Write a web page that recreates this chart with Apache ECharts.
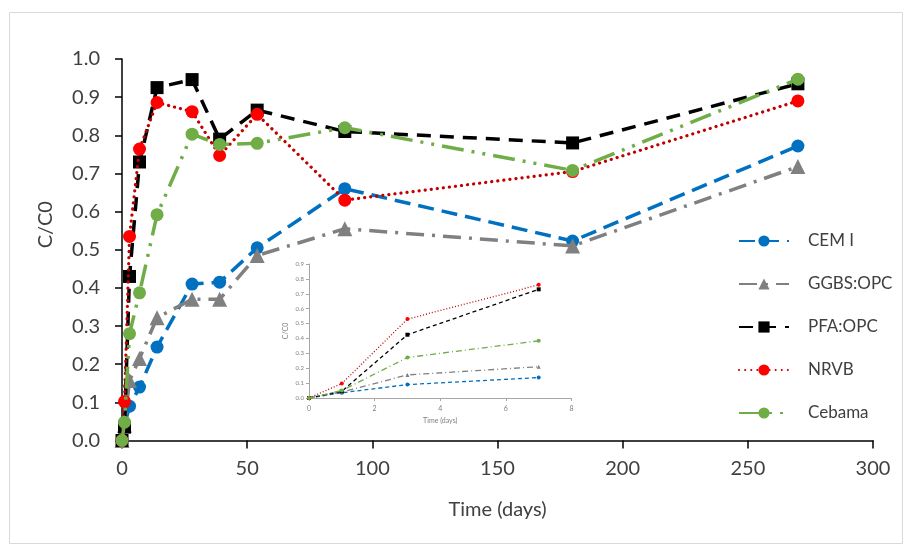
<!DOCTYPE html>
<html><head><meta charset="utf-8">
<script src="https://cdn.jsdelivr.net/npm/echarts@6/dist/echarts.min.js"></script>
<style>html,body{margin:0;padding:0;background:#fff}#c{width:906px;height:549px}</style>
</head><body><div id="c"></div>
<script>
// ---- main chart data ----
const days   = [0, 1, 3, 7, 14, 28, 39, 54, 89, 180, 270];
const cemI   = [0, 0.04, 0.09, 0.14, 0.245, 0.41, 0.415, 0.505, 0.66, 0.523, 0.772];
const ggbs   = [0, 0.04, 0.157, 0.215, 0.322, 0.37, 0.37, 0.485, 0.555, 0.51, 0.718];
const pfa    = [0, 0.035, 0.43, 0.73, 0.925, 0.946, 0.79, 0.866, 0.81, 0.78, 0.935];
const nrvb   = [0, 0.102, 0.535, 0.764, 0.886, 0.862, 0.747, 0.855, 0.63, 0.705, 0.89];
const cebama = [0, 0.048, 0.28, 0.387, 0.592, 0.803, 0.776, 0.779, 0.82, 0.708, 0.947];
// ---- inset data ----
const insetDays   = [0, 1, 3, 7];
const insetCemI   = [0, 0.035, 0.09, 0.137];
const insetGgbs   = [0, 0.04, 0.155, 0.21];
const insetPfa    = [0, 0.045, 0.425, 0.73];
const insetNrvb   = [0, 0.097, 0.53, 0.76];
const insetCebama = [0, 0.05, 0.272, 0.384];
const seriesNames = ['CEM I', 'GGBS:OPC', 'PFA:OPC', 'NRVB', 'Cebama'];

const zip = (xs, ys) => xs.map((x, i) => [x, ys[i]]);
const mainVals = [cemI, ggbs, pfa, nrvb, cebama];
const insetVals = [insetCemI, insetGgbs, insetPfa, insetNrvb, insetCebama];

const st = [
  {color: '#0070C0', symbol: 'circle',   size: 13, dash: [16, 8],                cap: 'butt',  w: 3.5, idash: [4, 3]},
  {color: '#808080', symbol: 'triangle', size: 15, dash: [18, 8, 3, 8],          cap: 'butt',  w: 3.5, idash: [6, 3, 1, 3]},
  {color: '#000000', symbol: 'rect',     size: 13, dash: [14, 9],                cap: 'butt',  w: 3.5, idash: [4, 3]},
  {color: '#FF0000', symbol: 'circle',   size: 13, dash: [0.1, 6],               cap: 'round', w: 3.2, idash: [1, 2]},
  {color: '#70AD47', symbol: 'circle',   size: 13, dash: [22, 8, 3, 8, 3, 8],    cap: 'butt',  w: 3.5, idash: [6, 3, 1, 3]}
];
const lineColors = ['#0070C0', '#808080', '#000000', '#C00000', '#70AD47'];

const FONT = 'Lato';
const series = [];
seriesNames.forEach((n, i) => {
  series.push({
    name: n, type: 'line', xAxisIndex: 0, yAxisIndex: 0,
    data: zip(days, mainVals[i]),
    symbol: st[i].symbol, symbolSize: st[i].size,
    itemStyle: {color: st[i].color},
    lineStyle: {color: lineColors[i], width: st[i].w, type: st[i].dash, cap: st[i].cap},
    animation: false, z: 2 + i
  });
});
seriesNames.forEach((n, i) => {
  series.push({
    name: n + ' (inset)', type: 'line', xAxisIndex: 1, yAxisIndex: 1,
    data: zip(insetDays, insetVals[i]),
    symbol: st[i].symbol, symbolSize: 4,
    itemStyle: {color: st[i].color},
    lineStyle: {color: lineColors[i], width: 1.3, type: st[i].idash},
    animation: false, silent: true, z: 2 + i
  });
});

const chart = echarts.init(document.getElementById('c'), null, {renderer: 'canvas'});
chart.setOption({
  backgroundColor: '#fff',
  animation: false,
  textStyle: {fontFamily: FONT},
  graphic: [{
    type: 'rect', shape: {x: 9.5, y: 12.5, width: 893, height: 531},
    style: {fill: 'none', stroke: '#d9d9d9', lineWidth: 1}, z: -1
  }],
  legend: {
    data: seriesNames, orient: 'vertical', left: 733, top: 226,
    itemWidth: 50, itemHeight: 14, itemGap: 23,
    textStyle: {fontFamily: FONT, fontSize: 17, color: '#404040', lineHeight: 20, padding: [0, 0, 0, 14]}
  },
  grid: [
    {left: 122, right: 33, top: 59, bottom: 108.5},
    {left: 309, right: 334.5, top: 264, bottom: 151}
  ],
  xAxis: [{
    type: 'value', gridIndex: 0, min: 0, max: 300, interval: 50,
    name: 'Time (days)', nameLocation: 'middle', nameGap: 59,
    nameTextStyle: {fontFamily: FONT, fontSize: 20, color: '#404040'},
    axisLine: {lineStyle: {color: '#000', width: 1.5}},
    axisTick: {show: true, inside: false, length: 8, lineStyle: {color: '#000', width: 1.5}},
    axisLabel: {fontFamily: FONT, fontSize: 20, color: '#404040', margin: 18},
    splitLine: {show: false}
  }, {
    type: 'value', gridIndex: 1, min: 0, max: 8, interval: 2,
    name: 'Time (days)', nameLocation: 'middle', nameGap: 19,
    nameTextStyle: {fontFamily: FONT, fontSize: 7, color: '#7f7f7f'},
    axisLine: {lineStyle: {color: '#a6a6a6', width: 1}},
    axisTick: {show: true, length: 3, lineStyle: {color: '#a6a6a6'}},
    axisLabel: {fontFamily: FONT, fontSize: 7, color: '#7f7f7f', margin: 7},
    splitLine: {show: false}
  }],
  yAxis: [{
    type: 'value', gridIndex: 0, min: 0, max: 1, interval: 0.1,
    name: 'C/C0', nameLocation: 'middle', nameGap: 66, nameRotate: 90,
    nameTextStyle: {fontFamily: FONT, fontSize: 20, color: '#404040', padding: [0, 0, 0, 50]},
    axisLine: {show: true, lineStyle: {color: '#000', width: 1.5}},
    axisTick: {show: true, inside: false, length: 7, lineStyle: {color: '#000', width: 1.5}},
    axisLabel: {fontFamily: FONT, fontSize: 20, color: '#404040', margin: 22, formatter: v => v.toFixed(1)},
    splitLine: {show: false}
  }, {
    type: 'value', gridIndex: 1, min: 0, max: 0.9, interval: 0.1,
    name: 'C/C0', nameLocation: 'middle', nameGap: 20, nameRotate: 90,
    nameTextStyle: {fontFamily: FONT, fontSize: 7, color: '#7f7f7f'},
    axisLine: {show: true, lineStyle: {color: '#a6a6a6', width: 1}},
    axisTick: {show: true, length: 3, lineStyle: {color: '#a6a6a6'}},
    axisLabel: {fontFamily: FONT, fontSize: 6, color: '#7f7f7f', margin: 5, formatter: v => v.toFixed(1)},
    splitLine: {show: false}
  }],
  series: series
});
</script>
</body></html>
